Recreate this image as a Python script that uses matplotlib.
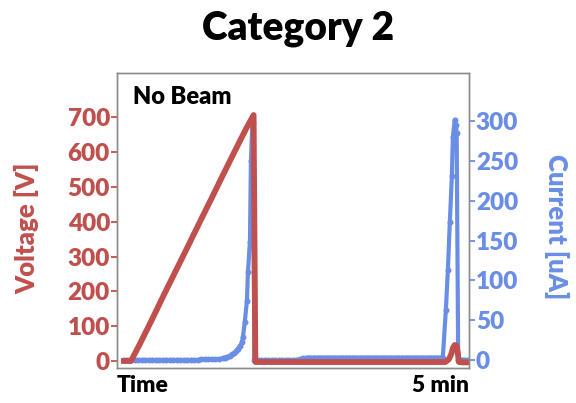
import matplotlib
matplotlib.use("Agg")
import matplotlib.pyplot as plt

plt.rcParams['font.family'] = ['Lato', 'DejaVu Sans']
plt.rcParams['font.weight'] = 'heavy'

# colours for the two series
RED = '#c0504d'
BLUE = '#6a8ee6'

# voltage trace (time in s, volts)
t_volt = [6, 9, 12, 20, 30, 40, 50, 60, 70, 80, 90, 100, 110, 116.5, 118, 130,
          150, 170, 190, 210, 230, 250, 270, 280, 283, 285, 286.5, 288, 289.5,
          290.5, 291.5, 295, 299]
volt = [0, 0, 0, 52, 120, 190, 258, 326, 395, 463, 532, 600, 667, 707, -3, -3,
        -3, -3, -3, -3, -3, -3, -3, -3, 5, 20, 38, 46, 44,
        25, -3, -4, -4]

# beam current trace (time in s, uA), logged every few seconds
t_curr = [6, 9, 12, 15, 18, 21, 24, 27, 30, 33, 36, 39, 42, 45, 48, 51, 54,
          57, 60, 63, 66, 69, 72, 75, 78, 81, 84, 87, 90, 92, 94, 96, 98, 100,
          101.5, 103, 105, 106.5, 107.4, 109, 110.8, 111.7, 113.4, 114.2,
          115.5, 116, 117.2, 120, 123, 126, 129, 132, 135, 138, 141, 144, 147,
          150, 153, 156, 159, 162, 165, 168, 171, 174, 177, 180, 183, 186, 189,
          192, 195, 198, 201, 204, 207, 210, 213, 216, 219, 222, 225, 228, 231,
          234, 237, 240, 243, 246, 249, 252, 255, 258, 261, 264, 267, 270, 273,
          276, 277.8, 280.4, 282.1, 283.8, 285.5, 286.4, 288, 289, 289.6,
          290.9, 293, 295, 297, 299]
curr = [0, 0, 0, 0, 0, 0, 0, 0, 0, 0, 0, 0, 0, 0, 0, 0, 0,
        0, 0, 0, 0, 0, 1, 1, 1, 1, 1, 1, 2, 3, 4, 5, 7, 9,
        11, 14, 18, 22, 29, 48, 74, 111, 149, 250,
        300, 298, 0, 0, 0, 0, 0, 0, 0, 0, 0, 0, 0,
        0, 0, 1, 2, 3, 3, 3, 3, 3, 3, 3, 3, 3, 3,
        3, 3, 3, 3, 3, 3, 3, 3, 3, 3, 3, 3, 3, 3,
        3, 3, 3, 3, 3, 3, 3, 3, 3, 3, 3, 3, 3, 3,
        3, 3, 63, 113, 174, 231, 281, 302, 295, 285,
        0, 0, 0, 0, 0]

fig = plt.figure(figsize=(5.76, 4.03), dpi=100)
ax = fig.add_axes([0.203, 0.087, 0.611, 0.732])
ax2 = ax.twinx()

ax2.plot(t_curr, curr, color=BLUE, lw=3.0, marker='o', ms=4.3, mew=0)
ax.plot(t_volt, volt, color=RED, lw=4.2)

# keep voltage on top of current
ax.set_zorder(ax2.get_zorder() + 1)
ax.patch.set_visible(False)

ax.set_xlim(0, 300)
ax.set_ylim(-20, 828)
ax2.set_ylim(-10, 361)
ax.set_yticks(range(0, 701, 100))
ax2.set_yticks(range(0, 301, 50))

ax.tick_params(axis='y', colors=RED, labelsize=17.5, length=4, width=1.3, pad=1)
ax2.tick_params(axis='y', colors=BLUE, labelsize=17.5, length=4, width=1.3, pad=1)

ax.set_xticks([0, 300])
ax.set_xticklabels(['Time', '5 min'], fontsize=16.5)
ax.tick_params(axis='x', length=0, pad=5)
xl = ax.get_xticklabels()
xl[0].set_ha('left')
xl[1].set_ha('right')

for lab in ax.get_xticklabels() + ax.get_yticklabels() + ax2.get_yticklabels():
    lab.set_fontweight('heavy')

for a in (ax, ax2):
    for s in a.spines.values():
        s.set_color('#8c8c8c')
        s.set_linewidth(1)

fig.text(0.047, 0.434, 'Voltage [V]', color=RED, fontsize=18.5, weight='heavy',
         rotation=90, ha='center', va='center')
fig.text(0.967, 0.437, 'Current [uA]', color=BLUE, fontsize=18.5, weight='heavy',
         rotation=-90, ha='center', va='center')

ax.text(0.045, 0.955, 'No Beam', transform=ax.transAxes, fontsize=17,
        weight='heavy', va='top', ha='left')

fig.text(0.517, 0.93, 'Category 2', fontsize=28, weight='heavy',
         ha='center', va='center')

fig.savefig('out.png', dpi=100)
